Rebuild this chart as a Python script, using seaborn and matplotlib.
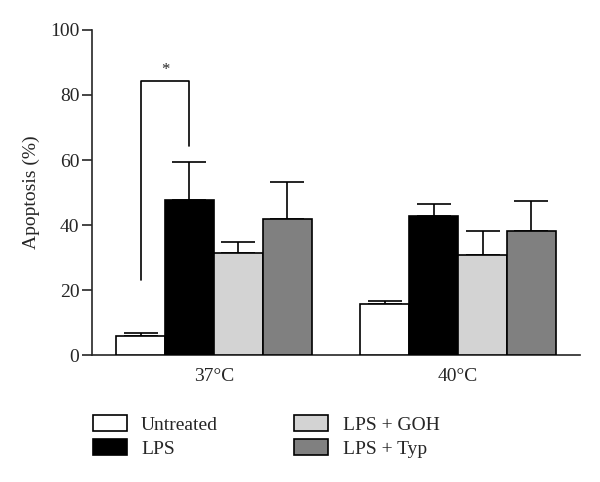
import numpy as np
import pandas as pd
import matplotlib
matplotlib.use('Agg')
import matplotlib.pyplot as plt
from matplotlib.patches import Patch
import seaborn as sns

# Data
temperatures = ['37°C', '40°C']
treatments = ['Untreated', 'LPS', 'LPS + GOH', 'LPS + Typ']
apoptosis = {
    'Untreated': [6.0, 15.8],
    'LPS': [47.6, 42.9],
    'LPS + GOH': [31.5, 30.9],
    'LPS + Typ': [41.8, 38.2],
}
errors = {
    'Untreated': [0.8, 0.8],
    'LPS': [11.8, 3.7],
    'LPS + GOH': [3.3, 7.3],
    'LPS + Typ': [11.4, 9.2],
}
colors = ['#ffffff', '#000000', '#d3d3d3', '#808080']

# significance bracket (37°C: Untreated vs LPS)
bracket_top = 84.3
bracket_left_bottom = 23.0
bracket_right_bottom = 64.3

rows = []
for t in treatments:
    for i, temp in enumerate(temperatures):
        rows.append({'Temperature': temp, 'Treatment': t, 'Apoptosis': apoptosis[t][i]})
df = pd.DataFrame(rows)

sns.set_style('ticks')
plt.rcParams['font.family'] = ['Liberation Serif', 'DejaVu Serif']
FS = 14

fig = plt.figure(figsize=(6, 4.82), dpi=100)
ax = fig.add_axes([0.153, 0.263, 0.814, 0.675])

sns.barplot(data=df, x='Temperature', y='Apoptosis', hue='Treatment',
            order=temperatures, hue_order=treatments, palette=colors,
            edgecolor='black', linewidth=1.2, width=0.8, errorbar=None,
            saturation=1, ax=ax, zorder=3)
ax.get_legend().remove()

# upper-only error bars behind bars
for t, cont in zip(treatments, ax.containers):
    for bar, err in zip(cont.patches, errors[t]):
        xc = bar.get_x() + bar.get_width() / 2
        ax.errorbar(xc, bar.get_height(), yerr=[[0], [err]], fmt='none',
                    ecolor='black', elinewidth=1.2, capsize=12, capthick=1.2, zorder=2)

# significance bracket
b0 = ax.containers[0].patches[0]
b1 = ax.containers[1].patches[0]
x0 = b0.get_x() + b0.get_width() / 2
x1 = b1.get_x() + b1.get_width() / 2
ax.plot([x0, x0, x1, x1], [bracket_left_bottom, bracket_top, bracket_top, bracket_right_bottom],
        color='black', lw=1.2)
ax.text((x0 + x1) / 2, bracket_top + 3.4, '*', ha='center', va='center', fontsize=12)

ax.set_ylim(0, 100)
ax.set_xlim(-0.5, 1.5)
ax.set_yticks([0, 20, 40, 60, 80, 100])
ax.set_xlabel('')
ax.set_ylabel('Apoptosis (%)', fontsize=FS, labelpad=7)
ax.tick_params(axis='y', length=7, width=1.2, labelsize=FS, pad=2)
ax.tick_params(axis='x', length=0, labelsize=FS, pad=9)
sns.despine(ax=ax)
for s in ['left', 'bottom']:
    ax.spines[s].set_linewidth(1.2)

handles = [Patch(facecolor=c, edgecolor='black', linewidth=1.2) for c in colors]
fig.legend(handles, treatments, loc='upper left', bbox_to_anchor=(0.125, 0.175),
           ncol=2, frameon=False, fontsize=FS, handlelength=1.75, handleheight=0.85,
           labelspacing=0.3, columnspacing=3.9, handletextpad=0.75)

plt.savefig('out.png', dpi=100)
